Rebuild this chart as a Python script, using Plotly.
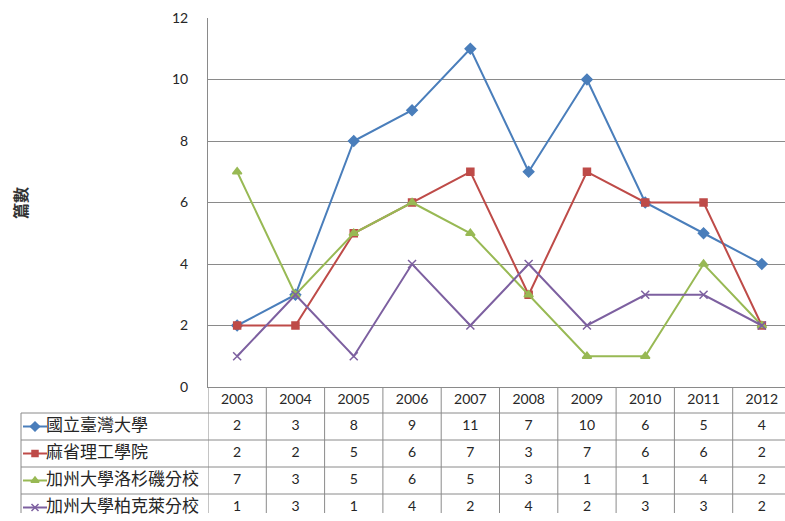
import plotly.graph_objects as go

years = ["2003", "2004", "2005", "2006", "2007", "2008", "2009", "2010", "2011", "2012"]
series_names = ["國立臺灣大學", "麻省理工學院", "加州大學洛杉磯分校", "加州大學柏克萊分校"]
ntu = [2, 3, 8, 9, 11, 7, 10, 6, 5, 4]
mit = [2, 2, 5, 6, 7, 3, 7, 6, 6, 2]
ucla = [7, 3, 5, 6, 5, 3, 1, 1, 4, 2]
ucb = [1, 3, 1, 4, 2, 4, 2, 3, 3, 2]
y_ticks = [0, 2, 4, 6, 8, 10, 12]
y_title = "篇數"

values = [ntu, mit, ucla, ucb]
colors = ["#4A7EBB", "#BE4B48", "#98B954", "#7D60A0"]
symbols = ["diamond", "square", "triangle-up", "x-thin"]
msizes = [8, 7, 8, 8]

W, H = 785, 521
H_EFF = 513          # measured drawable height in the viewer
TOP = 18
PLOT_BOTTOM = 387
LEFT = 208
ROW = 27
GRID = "#8A8A8A"
TXT = "#262626"
NUMFONT = "Lato"
CJKFONT = "Noto Sans CJK TC"

fig = go.Figure()

for name, vals, c, s, ms in zip(series_names, values, colors, symbols, msizes):
    fig.add_trace(go.Scatter(
        x=years, y=vals, name=name, mode="lines+markers",
        line=dict(color=c, width=2),
        marker=dict(symbol=s, size=ms, color=c, line=dict(color=c, width=1.5)),
        xaxis="x", yaxis="y", showlegend=False, cliponaxis=False))

plot_h = H_EFF - TOP
ydom0 = (H_EFF - PLOT_BOTTOM) / plot_h
xdom0 = LEFT / W
ncat = len(years)
x_right = -0.5 + (W - LEFT) / 58.3
hdr_top = -0.5 - 26 / ROW
y2_bottom = hdr_top + (H_EFF - PLOT_BOTTOM) / ROW
hdr_mid = (hdr_top - 0.5) / 2

fig.add_trace(go.Scatter(
    x=years, y=[hdr_mid] * len(years), text=years, mode="text",
    textfont=dict(family=NUMFONT, size=14, color=TXT),
    xaxis="x", yaxis="y2", showlegend=False, hoverinfo="skip", cliponaxis=False))

for i, vals in enumerate(values):
    fig.add_trace(go.Scatter(
        x=years, y=[i] * len(years), text=[str(v) for v in vals], mode="text",
        textfont=dict(family=NUMFONT, size=14, color=TXT),
        xaxis="x", yaxis="y2", showlegend=False, hoverinfo="skip", cliponaxis=False))

for i, (name, c, s, ms) in enumerate(zip(series_names, colors, symbols, msizes)):
    fig.add_trace(go.Scatter(
        x=[23, 47], y=[i, i], mode="lines", line=dict(color=c, width=2),
        xaxis="x2", yaxis="y2", showlegend=False, hoverinfo="skip"))
    fig.add_trace(go.Scatter(
        x=[35], y=[i], mode="markers",
        marker=dict(symbol=s, size=ms - 1, color=c, line=dict(color=c, width=1.5)),
        xaxis="x2", yaxis="y2", showlegend=False, hoverinfo="skip"))
    fig.add_trace(go.Scatter(
        x=[46], y=[i], text=[name], mode="text", textposition="middle right",
        textfont=dict(family=CJKFONT, size=17, color=TXT),
        xaxis="x2", yaxis="y2", showlegend=False, hoverinfo="skip", cliponaxis=False))

shapes = []
for v in [-0.5, 0.5, 1.5, 2.5]:
    shapes.append(dict(type="line", xref="paper", yref="y2", x0=21 / W, x1=1, y0=v, y1=v,
                       line=dict(color=GRID, width=1)))
for k in range(ncat):
    xv = k - 0.5
    shapes.append(dict(type="line", xref="x", yref="y2", x0=xv, x1=xv, y0=hdr_top, y1=y2_bottom + 0.5,
                       line=dict(color=GRID, width=1)))
shapes.append(dict(type="line", xref="x2", yref="y2", x0=21, x1=21, y0=-0.5, y1=y2_bottom + 0.5,
                   line=dict(color=GRID, width=1)))

fig.update_layout(
    width=W, height=H,
    margin=dict(l=0, r=0, t=TOP, b=0),
    paper_bgcolor="white", plot_bgcolor="white",
    xaxis=dict(domain=[xdom0, 1], range=[-0.5, x_right], type="category",
               showticklabels=False, showgrid=False, zeroline=False,
               showline=True, linecolor=GRID, linewidth=1, ticks="", anchor="y"),
    yaxis=dict(domain=[ydom0, 1], range=[0, 12], tickvals=y_ticks,
               showgrid=True, gridcolor=GRID, gridwidth=1, zeroline=False,
               showline=True, linecolor=GRID, linewidth=1, ticks="",
               ticklabelstandoff=16,
               tickfont=dict(family=NUMFONT, size=14, color=TXT), anchor="x"),
    yaxis2=dict(domain=[0, ydom0], range=[y2_bottom, hdr_top], visible=False, anchor="x"),
    xaxis2=dict(domain=[0, xdom0], range=[0, LEFT], visible=False, anchor="y2"),
    shapes=shapes,
    annotations=[dict(text="<b>" + y_title + "</b>", textangle=-90, xref="paper", yref="paper",
                      x=20 / W, y=(H_EFF - 203) / plot_h, showarrow=False,
                      xanchor="center", yanchor="middle",
                      font=dict(family=CJKFONT, size=16, color="#333333"))],
)

fig.write_html("out.html")
